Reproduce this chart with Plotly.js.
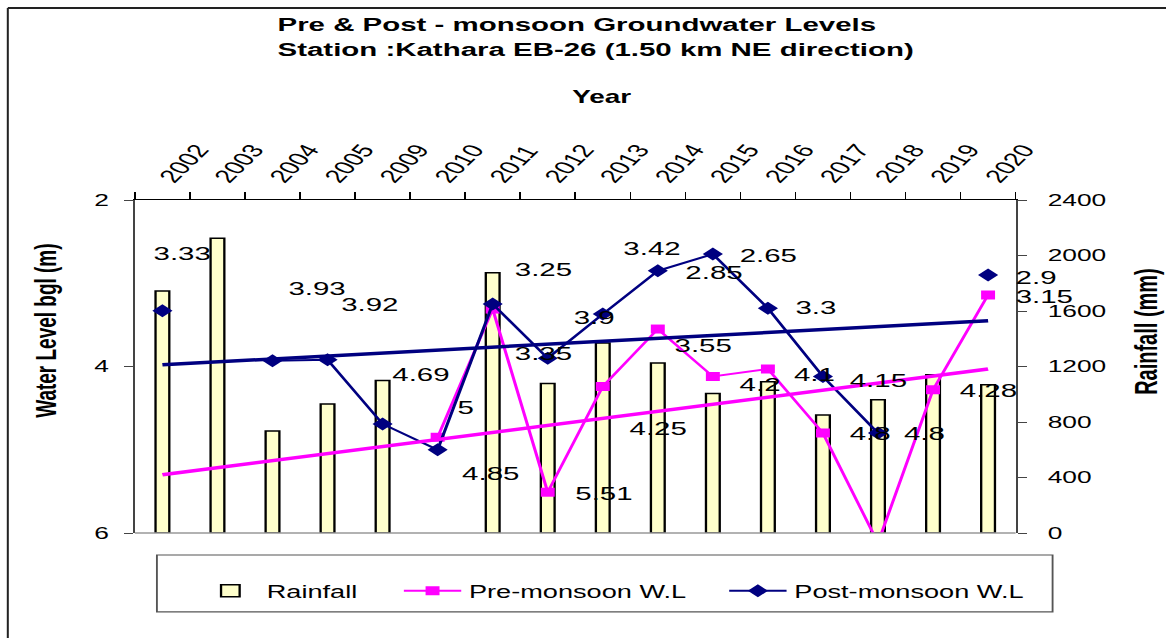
<!DOCTYPE html>
<html>
<head>
<meta charset="utf-8">
<script src="https://cdn.plot.ly/plotly-3.0.1.min.js"></script>
<style>
html,body{margin:0;padding:0;background:#fff;overflow:hidden;width:1166px;height:638px;}
#chart{width:752px;height:638px;transform:scaleX(1.55053);transform-origin:0 0;}
</style>
</head>
<body>
<div id="chart"></div>
<script>
// ---------- data ----------
const years = ['2002','2003','2004','2005','2009','2010','2011','2012','2013','2014','2015','2016','2017','2018','2019','2020'];
const rainfall = [1745, 2125, 735, 930, 1100, null, 1875, 1078, 1370, 1225, 1005, 1090, 850, 960, 1140, 1068];
const preMonsoon = [null, null, null, null, null, 4.85, 3.31, 5.51, 4.24, 3.55, 4.12, 4.03, 4.80, 6.12, 4.28, 3.14];
const postMonsoon = [3.33, null, 3.93, 3.92, 4.69, 5.00, 3.25, 3.90, 3.37, 2.85, 2.65, 3.30, 4.12, 4.80, null, 2.90];
const trendYears = ['2002', '2020'];
const preTrend = [5.30, 4.03];
const postTrend = [3.98, 3.45];
// data labels as printed on the chart
const labelText = ['3.33','3.93','3.92','4.69','5','3.25','3.35','3.9','3.42','2.85','2.65','3.3','4.1','4.8','2.9',
                   '4.85','5.51','4.25','3.55','4.2','4.15','4.8','4.28','3.15'];
const labelYear = ['2002','2004','2005','2009','2010','2011','2012','2013','2014','2015','2015','2016','2017','2018','2020',
                   '2011','2012','2014','2014','2016','2018','2019','2020','2020'];
const labelLevel = [2.637,3.057,3.261,4.102,4.498,2.829,3.838,3.417,2.577,2.865,2.661,3.297,4.102,4.799,2.925,
                    5.291,5.520,4.739,3.742,4.222,4.174,4.799,4.294,3.165];
// ---------- label placement (horizontal offset in screen px) ----------
const S = 1166/752;
const labelDx = [-10.5,14.5,12.5,7.5,17.5,20.5,-34.5,-30.5,-35.5,-29.5,25.5,25.5,-30.5,-30.5,26.5,
                 -32.5,25.5,-30.5,14.5,-30.5,-30.5,-30.5,-30.5,25.5];

const FONT = '"Liberation Sans", Arial, sans-serif';
const NAVY = '#000080', PINK = '#FF00FF';

const traces = [
  {type:'bar', name:'Rainfall', x:years, y:rainfall, yaxis:'y', width:0.25, legend:'legend',
   marker:{color:'#FFFFCC', line:{color:'#000', width:1.5}}},
  {type:'scatter', mode:'lines+markers', name:'Pre-monsoon W.L', x:years, y:preMonsoon, yaxis:'y2', legend:'legend2',
   line:{color:PINK, width:2}, marker:{symbol:'square', size:9, color:PINK}, connectgaps:false},
  {type:'scatter', mode:'lines+markers', name:'Post-monsoon W.L', x:years, y:postMonsoon, yaxis:'y2', legend:'legend3',
   line:{color:NAVY, width:2}, marker:{symbol:'diamond', size:10, color:NAVY}, connectgaps:false},
  {type:'scatter', mode:'lines', x:trendYears, y:preTrend, yaxis:'y2', showlegend:false,
   line:{color:PINK, width:3.5}, hoverinfo:'skip'},
  {type:'scatter', mode:'lines', x:trendYears, y:postTrend, yaxis:'y2', showlegend:false,
   line:{color:NAVY, width:3.5}, hoverinfo:'skip'}
];

const annotations = labelText.map((t,i)=>({
  x:years.indexOf(labelYear[i]), y:labelLevel[i], xref:'x', yref:'y2', text:t, showarrow:false,
  xanchor:'left', yanchor:'middle', xshift:labelDx[i]/S, borderpad:0,
  font:{family:FONT, size:19, color:'#000'}
}));
annotations.push(
  {text:'<b>Pre & Post - monsoon Groundwater Levels<br>Station :Kathara EB-26 (1.50 km NE direction)</b>',
   xref:'paper', yref:'paper', x:0.159, y:1.4895, showarrow:false, align:'left',
   xanchor:'left', yanchor:'middle', font:{family:FONT, size:19, color:'#000'}},
  {text:'<b>Year</b>', xref:'paper', yref:'paper', x:0.5307, y:1.309, showarrow:false,
   xanchor:'center', yanchor:'middle', font:{family:FONT, size:18, color:'#000'}},
  {text:'<b>Water Level bgl (m)</b>', xref:'paper', yref:'paper', x:-0.1023, y:0.6096, showarrow:false,
   textangle:-90, xanchor:'center', yanchor:'middle', font:{family:FONT, size:19, color:'#000'}},
  {text:'<b>Rainfall (mm)</b>', xref:'paper', yref:'paper', x:1.1477, y:0.6066, showarrow:false,
   textangle:-90, xanchor:'center', yanchor:'middle', font:{family:FONT, size:20, color:'#000'}}
);

const legendBase = {orientation:'h', xanchor:'left', y:-0.174, yanchor:'middle',
          bgcolor:'rgba(0,0,0,0)', borderwidth:0, itemwidth:37,
          font:{family:FONT, size:17.5, color:'#000'}};

const layout = {
  width:752, height:638,
  margin:{l:87, r:97, t:200, b:105, pad:0},
  paper_bgcolor:'#fff', plot_bgcolor:'rgba(0,0,0,0)',
  font:{family:FONT, color:'#000'},
  showlegend:true,
  legend:Object.assign({}, legendBase, {x:0.067}),
  legend2:Object.assign({}, legendBase, {x:0.2966}),
  legend3:Object.assign({}, legendBase, {x:0.666}),
  xaxis:{type:'category', side:'top', range:[-0.5,15.5], showline:true, linecolor:'#000', linewidth:1.5,
         ticks:'outside', ticklen:7, tickcolor:'#000', tickson:'boundaries', tickangle:-56,
         ticklabelstandoff:3,
         tickfont:{family:FONT, size:18.5, color:'#000'}, showgrid:false, zeroline:false, fixedrange:true},
  yaxis:{side:'right', range:[0,2400], dtick:400, showline:true, linecolor:'#444', linewidth:1.3,
         ticks:'outside', ticklen:6, tickcolor:'#444', ticklabelstandoff:10,
         tickfont:{family:FONT, size:17, color:'#000'}, showgrid:false, zeroline:false},
  yaxis2:{overlaying:'y', side:'left', range:[6,2], dtick:2, showline:true, linecolor:'#444', linewidth:1.3,
          ticks:'outside', ticklen:6, tickcolor:'#444', ticklabelstandoff:6,
          tickfont:{family:FONT, size:17, color:'#000'}, showgrid:false, zeroline:false},
  barmode:'overlay',
  annotations:annotations,
  shapes:[
    {type:'line', xref:'paper', yref:'paper', x0:0, x1:1, y0:0, y1:0, line:{color:'#999', width:1.5}},
    {type:'rect', xref:'paper', yref:'paper', x0:0.025, x1:1.042, y0:-0.237, y1:-0.066,
     line:{color:'#555', width:1.2}, fillcolor:'rgba(0,0,0,0)'},
    {type:'line', xref:'paper', yref:'paper', x0:-0.1443, x1:-0.1443, y0:-0.5, y1:1.5766, line:{color:'#222', width:1.3}},
    {type:'line', xref:'paper', yref:'paper', x0:-0.1443, x1:1.3, y0:1.5766, y1:1.5766, line:{color:'#222', width:2}}
  ]
};

Plotly.newPlot('chart', traces, layout, {displayModeBar:false, staticPlot:true});
</script>
</body>
</html>
